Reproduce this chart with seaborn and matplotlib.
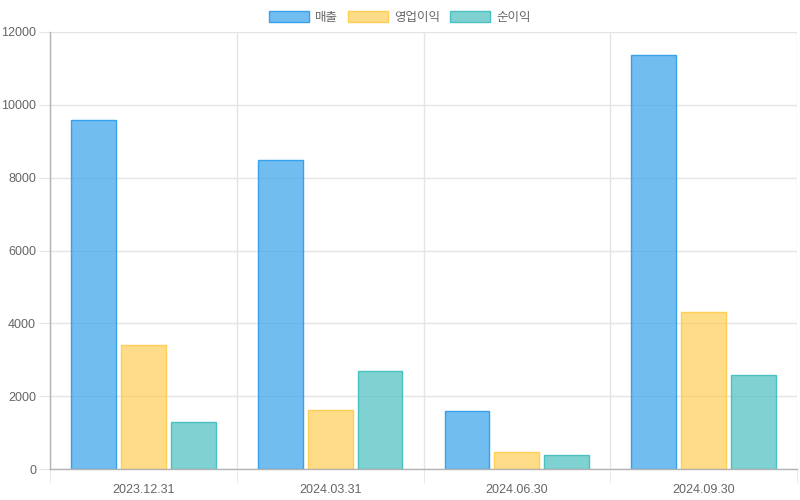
import numpy as np
import pandas as pd
import matplotlib.pyplot as plt
import seaborn as sns

dates = ['2023.12.31', '2024.03.31', '2024.06.30', '2024.09.30']
series = ['매출', '영업이익', '순이익']
sales = [9580, 8490, 1600, 11360]
op_profit = [3400, 1620, 470, 4300]
net_profit = [1290, 2690, 390, 2580]

fills = [(54/255, 162/255, 235/255, 0.7), (255/255, 206/255, 86/255, 0.7),
         (75/255, 192/255, 192/255, 0.7)]
edges = ['#36a2eb', '#ffce56', '#4bc0c0']

df = pd.DataFrame({
    'date': dates * 3,
    'series': [s for s in series for _ in dates],
    'value': sales + op_profit + net_profit,
})

sns.set_style('white')
plt.rcParams['font.family'] = ['Liberation Sans', 'Noto Sans CJK KR', 'DejaVu Sans']

fig = plt.figure(figsize=(8, 5), dpi=100)
ax = fig.add_axes([50/800, 31/500, 747/800, 437/500])

sns.barplot(data=df, x='date', y='value', hue='series', order=dates,
            hue_order=series, palette=fills, width=0.8, gap=0.1,
            saturation=1, ax=ax, legend=False)

for i, cont in enumerate(ax.containers):
    for bar in cont:
        bar.set_edgecolor(edges[i])
        bar.set_linewidth(1)

ax.set_xlim(-0.5, 3.5)
ax.set_ylim(0, 12000)
ax.set_yticks(np.arange(0, 12001, 2000))
ax.set_xlabel('')
ax.set_ylabel('')

grid_c = '#e5e5e5'
ax.set_xticks(np.arange(-0.5, 3.6, 1), minor=True)
ax.grid(True, axis='y', color=grid_c, linewidth=1, alpha=1)
ax.grid(True, axis='x', which='minor', color=grid_c, linewidth=1, alpha=1)
ax.set_axisbelow(True)

ax.tick_params(axis='y', length=8, color=grid_c, labelsize=9, labelcolor='#666666', pad=2, left=True)
ax.tick_params(axis='x', which='major', length=0, labelsize=9, labelcolor='#666666', pad=11)
ax.tick_params(axis='x', which='minor', length=10, color=grid_c, bottom=True)

for side in ['top', 'right']:
    ax.spines[side].set_visible(False)
for side in ['left', 'bottom']:
    ax.spines[side].set_color('#b3b3b3')
    ax.spines[side].set_linewidth(1)

handles = [plt.Rectangle((0, 0), 1, 1, facecolor=fills[i], edgecolor=edges[i], linewidth=1)
           for i in range(3)]
fig.legend(handles, series, loc='upper center', bbox_to_anchor=(0.5, 1.0), ncol=3,
           frameon=False, fontsize=9, labelcolor='#666666', handlelength=3.2,
           handleheight=1.0, handletextpad=0.5, columnspacing=0.8)

fig.savefig('out.png', dpi=100)
